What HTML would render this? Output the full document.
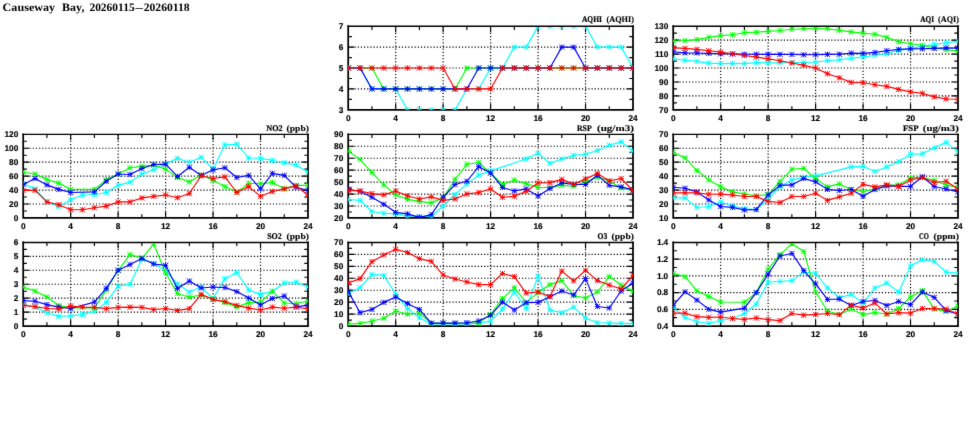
<!DOCTYPE html>
<html lang="en"><head><meta charset="utf-8"><title>Causeway Bay</title>
<style>html,body{margin:0;padding:0;background:#fff}svg{display:block}text{text-rendering:geometricPrecision}</style></head>
<body>
<svg width="975" height="447" viewBox="0 0 975 447">
<defs><g id="m"><path d="M-2.6 0H2.6M0 -2.6V2.6M-2.6 -2.6L2.6 2.6M-2.6 2.6L2.6 -2.6"/></g></defs>
<filter id="bl" x="0" y="0" width="975" height="447" filterUnits="userSpaceOnUse" color-interpolation-filters="sRGB"><feConvolveMatrix order="3" kernelMatrix="0.0064 0.0672 0.0064 0.0672 0.7056 0.0672 0.0064 0.0672 0.0064" divisor="1" edgeMode="none" preserveAlpha="false"/></filter>
<rect width="975" height="447" fill="#fff"/>
<g filter="url(#bl)">
<text y="10.8" font-family="'Liberation Serif', serif" font-weight="bold" font-size="11.3" fill="#000"><tspan x="2.6" textLength="52.6" lengthAdjust="spacingAndGlyphs">Causeway</tspan> <tspan x="62.0" textLength="22.4" lengthAdjust="spacingAndGlyphs">Bay,</tspan> <tspan x="89.4" textLength="45.3" lengthAdjust="spacingAndGlyphs">20260115</tspan><tspan x="135.4" textLength="7.4" lengthAdjust="spacingAndGlyphs">–</tspan><tspan x="143.7" textLength="46.0" lengthAdjust="spacingAndGlyphs">20260118</tspan></text>
<g>
<clipPath id="cp0"><rect x="348.20" y="26.95" width="284.80" height="82.90"/></clipPath>
<clipPath id="cl0"><rect x="348.20" y="27.00" width="284.80" height="82.05"/></clipPath>
<path d="M395.67 109.85V26.20M443.13 109.85V26.20M490.60 109.85V26.20M538.07 109.85V26.20M585.53 109.85V26.20M348.20 88.94H633.00M348.20 68.03H633.00M348.20 47.11H633.00" stroke="#000" stroke-width="1.15" stroke-dasharray="1.2 1.96" fill="none"/>
<path d="M371.93 109.85v-3.70M371.93 26.20v3.70M395.67 109.85v-6.00M395.67 26.20v6.00M419.40 109.85v-3.70M419.40 26.20v3.70M443.13 109.85v-6.00M443.13 26.20v6.00M466.87 109.85v-3.70M466.87 26.20v3.70M490.60 109.85v-6.00M490.60 26.20v6.00M514.33 109.85v-3.70M514.33 26.20v3.70M538.07 109.85v-6.00M538.07 26.20v6.00M561.80 109.85v-3.70M561.80 26.20v3.70M585.53 109.85v-6.00M585.53 26.20v6.00M609.27 109.85v-3.70M609.27 26.20v3.70M348.20 99.39h3.70M633.00 99.39h-3.70M348.20 88.94h6.00M633.00 88.94h-6.00M348.20 78.48h3.70M633.00 78.48h-3.70M348.20 68.03h6.00M633.00 68.03h-6.00M348.20 57.57h3.70M633.00 57.57h-3.70M348.20 47.11h6.00M633.00 47.11h-6.00M348.20 36.66h3.70M633.00 36.66h-3.70" stroke="#000" stroke-width="1.15" fill="none"/>
<path d="M348.20 26.20V109.85H633.00V26.20" fill="none" stroke="#000" stroke-width="1.75" stroke-linecap="square"/>
<path d="M348.20 26.30H633.00" fill="none" stroke="#000" stroke-width="1.4" stroke-linecap="square"/>
<g font-family="'Liberation Sans', sans-serif" font-weight="bold" font-size="8.3" fill="#000" stroke="#000" stroke-width="0.16">
<text x="348.20" y="120.95" text-anchor="middle">0</text>
<text x="395.67" y="120.95" text-anchor="middle">4</text>
<text x="443.13" y="120.95" text-anchor="middle">8</text>
<text x="490.60" y="120.95" text-anchor="middle">12</text>
<text x="538.07" y="120.95" text-anchor="middle">16</text>
<text x="585.53" y="120.95" text-anchor="middle">20</text>
<text x="633.00" y="120.95" text-anchor="middle">24</text>
<text x="343.30" y="112.70" text-anchor="end">3</text>
<text x="343.30" y="91.79" text-anchor="end">4</text>
<text x="343.30" y="70.88" text-anchor="end">5</text>
<text x="343.30" y="49.96" text-anchor="end">6</text>
<text x="343.30" y="29.05" text-anchor="end">7</text>
</g>
<text y="22.40" font-family="'Liberation Serif', serif" font-weight="bold" font-size="8.6" fill="#000" stroke="#000"><tspan x="581.90" textLength="20.0" lengthAdjust="spacingAndGlyphs" stroke-width="0.22">AQHI</tspan> <tspan x="606.50" textLength="27.4" lengthAdjust="spacingAndGlyphs" stroke-width="0.12">(AQHI)</tspan></text>
<g fill="none">
<g stroke="#00ffff">
<polyline clip-path="url(#cl0)" stroke-width="1.15" stroke-linejoin="round" points="348.20,68.03 360.07,68.03 371.93,88.94 383.80,88.94 395.67,88.94 407.53,109.85 419.40,109.85 431.27,109.85 443.13,109.85 455.00,109.85 466.87,88.94 478.73,88.94 490.60,68.03 502.47,68.03 514.33,47.11 526.20,47.11 538.07,26.20 549.93,26.20 561.80,26.20 573.67,26.20 585.53,26.20 597.40,47.11 609.27,47.11 621.13,47.11 633.00,68.03"/>
<g clip-path="url(#cp0)" stroke-width="0.95"><use href="#m" x="348.20" y="68.03"/><use href="#m" x="360.07" y="68.03"/><use href="#m" x="371.93" y="88.94"/><use href="#m" x="383.80" y="88.94"/><use href="#m" x="395.67" y="88.94"/><use href="#m" x="407.53" y="109.85"/><use href="#m" x="419.40" y="109.85"/><use href="#m" x="431.27" y="109.85"/><use href="#m" x="443.13" y="109.85"/><use href="#m" x="455.00" y="109.85"/><use href="#m" x="466.87" y="88.94"/><use href="#m" x="478.73" y="88.94"/><use href="#m" x="490.60" y="68.03"/><use href="#m" x="502.47" y="68.03"/><use href="#m" x="514.33" y="47.11"/><use href="#m" x="526.20" y="47.11"/><use href="#m" x="538.07" y="26.20"/><use href="#m" x="549.93" y="26.20"/><use href="#m" x="561.80" y="26.20"/><use href="#m" x="573.67" y="26.20"/><use href="#m" x="585.53" y="26.20"/><use href="#m" x="597.40" y="47.11"/><use href="#m" x="609.27" y="47.11"/><use href="#m" x="621.13" y="47.11"/><use href="#m" x="633.00" y="68.03"/></g>
</g>
<g stroke="#00ff00">
<polyline clip-path="url(#cl0)" stroke-width="1.15" stroke-linejoin="round" points="348.20,68.03 360.07,68.03 371.93,68.03 383.80,88.94 395.67,88.94 407.53,88.94 419.40,88.94 431.27,88.94 443.13,88.94 455.00,88.94 466.87,68.03 478.73,68.03 490.60,68.03 502.47,68.03 514.33,68.03 526.20,68.03 538.07,68.03 549.93,68.03 561.80,68.03 573.67,68.03 585.53,68.03 597.40,68.03 609.27,68.03 621.13,68.03 633.00,68.03"/>
<g clip-path="url(#cp0)" stroke-width="0.95"><use href="#m" x="348.20" y="68.03"/><use href="#m" x="360.07" y="68.03"/><use href="#m" x="371.93" y="68.03"/><use href="#m" x="383.80" y="88.94"/><use href="#m" x="395.67" y="88.94"/><use href="#m" x="407.53" y="88.94"/><use href="#m" x="419.40" y="88.94"/><use href="#m" x="431.27" y="88.94"/><use href="#m" x="443.13" y="88.94"/><use href="#m" x="455.00" y="88.94"/><use href="#m" x="466.87" y="68.03"/><use href="#m" x="478.73" y="68.03"/><use href="#m" x="490.60" y="68.03"/><use href="#m" x="502.47" y="68.03"/><use href="#m" x="514.33" y="68.03"/><use href="#m" x="526.20" y="68.03"/><use href="#m" x="538.07" y="68.03"/><use href="#m" x="549.93" y="68.03"/><use href="#m" x="561.80" y="68.03"/><use href="#m" x="573.67" y="68.03"/><use href="#m" x="585.53" y="68.03"/><use href="#m" x="597.40" y="68.03"/><use href="#m" x="609.27" y="68.03"/><use href="#m" x="621.13" y="68.03"/><use href="#m" x="633.00" y="68.03"/></g>
</g>
<g stroke="#0000ff">
<polyline clip-path="url(#cl0)" stroke-width="1.15" stroke-linejoin="round" points="348.20,68.03 360.07,68.03 371.93,88.94 383.80,88.94 395.67,88.94 407.53,88.94 419.40,88.94 431.27,88.94 443.13,88.94 455.00,88.94 466.87,88.94 478.73,68.03 490.60,68.03 502.47,68.03 514.33,68.03 526.20,68.03 538.07,68.03 549.93,68.03 561.80,47.11 573.67,47.11 585.53,68.03 597.40,68.03 609.27,68.03 621.13,68.03 633.00,68.03"/>
<g clip-path="url(#cp0)" stroke-width="0.95"><use href="#m" x="348.20" y="68.03"/><use href="#m" x="360.07" y="68.03"/><use href="#m" x="371.93" y="88.94"/><use href="#m" x="383.80" y="88.94"/><use href="#m" x="395.67" y="88.94"/><use href="#m" x="407.53" y="88.94"/><use href="#m" x="419.40" y="88.94"/><use href="#m" x="431.27" y="88.94"/><use href="#m" x="443.13" y="88.94"/><use href="#m" x="455.00" y="88.94"/><use href="#m" x="466.87" y="88.94"/><use href="#m" x="478.73" y="68.03"/><use href="#m" x="490.60" y="68.03"/><use href="#m" x="502.47" y="68.03"/><use href="#m" x="514.33" y="68.03"/><use href="#m" x="526.20" y="68.03"/><use href="#m" x="538.07" y="68.03"/><use href="#m" x="549.93" y="68.03"/><use href="#m" x="561.80" y="47.11"/><use href="#m" x="573.67" y="47.11"/><use href="#m" x="585.53" y="68.03"/><use href="#m" x="597.40" y="68.03"/><use href="#m" x="609.27" y="68.03"/><use href="#m" x="621.13" y="68.03"/><use href="#m" x="633.00" y="68.03"/></g>
</g>
<g stroke="#ff0000">
<polyline clip-path="url(#cl0)" stroke-width="1.15" stroke-linejoin="round" points="348.20,68.03 360.07,68.03 371.93,68.03 383.80,68.03 395.67,68.03 407.53,68.03 419.40,68.03 431.27,68.03 443.13,68.03 455.00,88.94 466.87,88.94 478.73,88.94 490.60,88.94 502.47,68.03 514.33,68.03 526.20,68.03 538.07,68.03 549.93,68.03 561.80,68.03 573.67,68.03 585.53,68.03 597.40,68.03 609.27,68.03 621.13,68.03 633.00,68.03"/>
<g clip-path="url(#cp0)" stroke-width="0.95"><use href="#m" x="348.20" y="68.03"/><use href="#m" x="360.07" y="68.03"/><use href="#m" x="371.93" y="68.03"/><use href="#m" x="383.80" y="68.03"/><use href="#m" x="395.67" y="68.03"/><use href="#m" x="407.53" y="68.03"/><use href="#m" x="419.40" y="68.03"/><use href="#m" x="431.27" y="68.03"/><use href="#m" x="443.13" y="68.03"/><use href="#m" x="455.00" y="88.94"/><use href="#m" x="466.87" y="88.94"/><use href="#m" x="478.73" y="88.94"/><use href="#m" x="490.60" y="88.94"/><use href="#m" x="502.47" y="68.03"/><use href="#m" x="514.33" y="68.03"/><use href="#m" x="526.20" y="68.03"/><use href="#m" x="538.07" y="68.03"/><use href="#m" x="549.93" y="68.03"/><use href="#m" x="561.80" y="68.03"/><use href="#m" x="573.67" y="68.03"/><use href="#m" x="585.53" y="68.03"/><use href="#m" x="597.40" y="68.03"/><use href="#m" x="609.27" y="68.03"/><use href="#m" x="621.13" y="68.03"/><use href="#m" x="633.00" y="68.03"/></g>
</g>
</g>
</g>
<g>
<clipPath id="cp1"><rect x="673.20" y="26.95" width="284.80" height="82.90"/></clipPath>
<clipPath id="cl1"><rect x="673.20" y="27.00" width="284.80" height="82.05"/></clipPath>
<path d="M720.67 109.85V26.20M768.13 109.85V26.20M815.60 109.85V26.20M863.07 109.85V26.20M910.53 109.85V26.20M673.20 95.91H958.00M673.20 81.97H958.00M673.20 68.03H958.00M673.20 54.08H958.00M673.20 40.14H958.00" stroke="#000" stroke-width="1.15" stroke-dasharray="1.2 1.96" fill="none"/>
<path d="M696.93 109.85v-3.70M696.93 26.20v3.70M720.67 109.85v-6.00M720.67 26.20v6.00M744.40 109.85v-3.70M744.40 26.20v3.70M768.13 109.85v-6.00M768.13 26.20v6.00M791.87 109.85v-3.70M791.87 26.20v3.70M815.60 109.85v-6.00M815.60 26.20v6.00M839.33 109.85v-3.70M839.33 26.20v3.70M863.07 109.85v-6.00M863.07 26.20v6.00M886.80 109.85v-3.70M886.80 26.20v3.70M910.53 109.85v-6.00M910.53 26.20v6.00M934.27 109.85v-3.70M934.27 26.20v3.70M673.20 102.88h3.70M958.00 102.88h-3.70M673.20 95.91h6.00M958.00 95.91h-6.00M673.20 88.94h3.70M958.00 88.94h-3.70M673.20 81.97h6.00M958.00 81.97h-6.00M673.20 75.00h3.70M958.00 75.00h-3.70M673.20 68.03h6.00M958.00 68.03h-6.00M673.20 61.05h3.70M958.00 61.05h-3.70M673.20 54.08h6.00M958.00 54.08h-6.00M673.20 47.11h3.70M958.00 47.11h-3.70M673.20 40.14h6.00M958.00 40.14h-6.00M673.20 33.17h3.70M958.00 33.17h-3.70" stroke="#000" stroke-width="1.15" fill="none"/>
<path d="M673.20 26.20V109.85H958.00V26.20" fill="none" stroke="#000" stroke-width="1.75" stroke-linecap="square"/>
<path d="M673.20 26.30H958.00" fill="none" stroke="#000" stroke-width="1.4" stroke-linecap="square"/>
<g font-family="'Liberation Sans', sans-serif" font-weight="bold" font-size="8.3" fill="#000" stroke="#000" stroke-width="0.16">
<text x="673.20" y="120.95" text-anchor="middle">0</text>
<text x="720.67" y="120.95" text-anchor="middle">4</text>
<text x="768.13" y="120.95" text-anchor="middle">8</text>
<text x="815.60" y="120.95" text-anchor="middle">12</text>
<text x="863.07" y="120.95" text-anchor="middle">16</text>
<text x="910.53" y="120.95" text-anchor="middle">20</text>
<text x="958.00" y="120.95" text-anchor="middle">24</text>
<text x="668.30" y="112.70" text-anchor="end">70</text>
<text x="668.30" y="98.76" text-anchor="end">80</text>
<text x="668.30" y="84.82" text-anchor="end">90</text>
<text x="668.30" y="70.88" text-anchor="end">100</text>
<text x="668.30" y="56.93" text-anchor="end">110</text>
<text x="668.30" y="42.99" text-anchor="end">120</text>
<text x="668.30" y="29.05" text-anchor="end">130</text>
</g>
<text y="22.40" font-family="'Liberation Serif', serif" font-weight="bold" font-size="8.6" fill="#000" stroke="#000"><tspan x="920.30" textLength="13.9" lengthAdjust="spacingAndGlyphs" stroke-width="0.22">AQI</tspan> <tspan x="938.10" textLength="20.8" lengthAdjust="spacingAndGlyphs" stroke-width="0.12">(AQI)</tspan></text>
<g fill="none">
<g stroke="#00ffff">
<polyline clip-path="url(#cl1)" stroke-width="1.15" stroke-linejoin="round" points="673.20,58.82 685.07,60.22 696.93,61.33 708.80,63.15 720.67,63.56 732.53,63.42 744.40,63.56 756.27,62.59 768.13,62.73 780.00,62.73 791.87,62.59 803.73,62.45 815.60,62.03 827.47,60.78 839.33,59.80 851.20,58.41 863.07,56.87 874.93,55.48 886.80,53.80 898.67,50.32 910.53,48.37 922.40,46.42 934.27,44.32 946.13,42.79 958.00,41.40"/>
<g clip-path="url(#cp1)" stroke-width="0.95"><use href="#m" x="673.20" y="58.82"/><use href="#m" x="685.07" y="60.22"/><use href="#m" x="696.93" y="61.33"/><use href="#m" x="708.80" y="63.15"/><use href="#m" x="720.67" y="63.56"/><use href="#m" x="732.53" y="63.42"/><use href="#m" x="744.40" y="63.56"/><use href="#m" x="756.27" y="62.59"/><use href="#m" x="768.13" y="62.73"/><use href="#m" x="780.00" y="62.73"/><use href="#m" x="791.87" y="62.59"/><use href="#m" x="803.73" y="62.45"/><use href="#m" x="815.60" y="62.03"/><use href="#m" x="827.47" y="60.78"/><use href="#m" x="839.33" y="59.80"/><use href="#m" x="851.20" y="58.41"/><use href="#m" x="863.07" y="56.87"/><use href="#m" x="874.93" y="55.48"/><use href="#m" x="886.80" y="53.80"/><use href="#m" x="898.67" y="50.32"/><use href="#m" x="910.53" y="48.37"/><use href="#m" x="922.40" y="46.42"/><use href="#m" x="934.27" y="44.32"/><use href="#m" x="946.13" y="42.79"/><use href="#m" x="958.00" y="41.40"/></g>
</g>
<g stroke="#00ff00">
<polyline clip-path="url(#cl1)" stroke-width="1.15" stroke-linejoin="round" points="673.20,41.12 685.07,40.70 696.93,39.58 708.80,37.35 720.67,35.68 732.53,34.70 744.40,32.75 756.27,32.19 768.13,31.36 780.00,30.52 791.87,29.27 803.73,28.71 815.60,28.29 827.47,28.71 839.33,30.38 851.20,31.92 863.07,33.17 874.93,34.29 886.80,37.35 898.67,41.68 910.53,43.77 922.40,45.30 934.27,47.81 946.13,49.76 958.00,51.16"/>
<g clip-path="url(#cp1)" stroke-width="0.95"><use href="#m" x="673.20" y="41.12"/><use href="#m" x="685.07" y="40.70"/><use href="#m" x="696.93" y="39.58"/><use href="#m" x="708.80" y="37.35"/><use href="#m" x="720.67" y="35.68"/><use href="#m" x="732.53" y="34.70"/><use href="#m" x="744.40" y="32.75"/><use href="#m" x="756.27" y="32.19"/><use href="#m" x="768.13" y="31.36"/><use href="#m" x="780.00" y="30.52"/><use href="#m" x="791.87" y="29.27"/><use href="#m" x="803.73" y="28.71"/><use href="#m" x="815.60" y="28.29"/><use href="#m" x="827.47" y="28.71"/><use href="#m" x="839.33" y="30.38"/><use href="#m" x="851.20" y="31.92"/><use href="#m" x="863.07" y="33.17"/><use href="#m" x="874.93" y="34.29"/><use href="#m" x="886.80" y="37.35"/><use href="#m" x="898.67" y="41.68"/><use href="#m" x="910.53" y="43.77"/><use href="#m" x="922.40" y="45.30"/><use href="#m" x="934.27" y="47.81"/><use href="#m" x="946.13" y="49.76"/><use href="#m" x="958.00" y="51.16"/></g>
</g>
<g stroke="#0000ff">
<polyline clip-path="url(#cl1)" stroke-width="1.15" stroke-linejoin="round" points="673.20,51.71 685.07,52.83 696.93,52.97 708.80,53.39 720.67,53.80 732.53,53.94 744.40,54.22 756.27,54.22 768.13,54.36 780.00,54.36 791.87,54.50 803.73,54.78 815.60,54.78 827.47,54.36 839.33,54.22 851.20,53.11 863.07,53.39 874.93,52.41 886.80,50.74 898.67,49.34 910.53,48.92 922.40,48.79 934.27,48.37 946.13,47.81 958.00,48.09"/>
<g clip-path="url(#cp1)" stroke-width="0.95"><use href="#m" x="673.20" y="51.71"/><use href="#m" x="685.07" y="52.83"/><use href="#m" x="696.93" y="52.97"/><use href="#m" x="708.80" y="53.39"/><use href="#m" x="720.67" y="53.80"/><use href="#m" x="732.53" y="53.94"/><use href="#m" x="744.40" y="54.22"/><use href="#m" x="756.27" y="54.22"/><use href="#m" x="768.13" y="54.36"/><use href="#m" x="780.00" y="54.36"/><use href="#m" x="791.87" y="54.50"/><use href="#m" x="803.73" y="54.78"/><use href="#m" x="815.60" y="54.78"/><use href="#m" x="827.47" y="54.36"/><use href="#m" x="839.33" y="54.22"/><use href="#m" x="851.20" y="53.11"/><use href="#m" x="863.07" y="53.39"/><use href="#m" x="874.93" y="52.41"/><use href="#m" x="886.80" y="50.74"/><use href="#m" x="898.67" y="49.34"/><use href="#m" x="910.53" y="48.92"/><use href="#m" x="922.40" y="48.79"/><use href="#m" x="934.27" y="48.37"/><use href="#m" x="946.13" y="47.81"/><use href="#m" x="958.00" y="48.09"/></g>
</g>
<g stroke="#ff0000">
<polyline clip-path="url(#cl1)" stroke-width="1.15" stroke-linejoin="round" points="673.20,47.81 685.07,48.37 696.93,49.34 708.80,50.74 720.67,52.13 732.53,53.80 744.40,55.48 756.27,57.15 768.13,58.82 780.00,60.78 791.87,63.01 803.73,65.38 815.60,68.03 827.47,73.74 839.33,77.78 851.20,82.38 863.07,82.80 874.93,84.76 886.80,86.43 898.67,89.36 910.53,91.87 922.40,93.26 934.27,96.88 946.13,98.98 958.00,99.25"/>
<g clip-path="url(#cp1)" stroke-width="0.95"><use href="#m" x="673.20" y="47.81"/><use href="#m" x="685.07" y="48.37"/><use href="#m" x="696.93" y="49.34"/><use href="#m" x="708.80" y="50.74"/><use href="#m" x="720.67" y="52.13"/><use href="#m" x="732.53" y="53.80"/><use href="#m" x="744.40" y="55.48"/><use href="#m" x="756.27" y="57.15"/><use href="#m" x="768.13" y="58.82"/><use href="#m" x="780.00" y="60.78"/><use href="#m" x="791.87" y="63.01"/><use href="#m" x="803.73" y="65.38"/><use href="#m" x="815.60" y="68.03"/><use href="#m" x="827.47" y="73.74"/><use href="#m" x="839.33" y="77.78"/><use href="#m" x="851.20" y="82.38"/><use href="#m" x="863.07" y="82.80"/><use href="#m" x="874.93" y="84.76"/><use href="#m" x="886.80" y="86.43"/><use href="#m" x="898.67" y="89.36"/><use href="#m" x="910.53" y="91.87"/><use href="#m" x="922.40" y="93.26"/><use href="#m" x="934.27" y="96.88"/><use href="#m" x="946.13" y="98.98"/><use href="#m" x="958.00" y="99.25"/></g>
</g>
</g>
</g>
<g>
<clipPath id="cp2"><rect x="23.20" y="135.05" width="284.80" height="82.90"/></clipPath>
<clipPath id="cl2"><rect x="23.20" y="135.10" width="284.80" height="82.05"/></clipPath>
<path d="M70.67 217.95V134.30M118.13 217.95V134.30M165.60 217.95V134.30M213.07 217.95V134.30M260.53 217.95V134.30M23.20 204.01H308.00M23.20 190.07H308.00M23.20 176.12H308.00M23.20 162.18H308.00M23.20 148.24H308.00" stroke="#000" stroke-width="1.15" stroke-dasharray="1.2 1.96" fill="none"/>
<path d="M46.93 217.95v-3.70M46.93 134.30v3.70M70.67 217.95v-6.00M70.67 134.30v6.00M94.40 217.95v-3.70M94.40 134.30v3.70M118.13 217.95v-6.00M118.13 134.30v6.00M141.87 217.95v-3.70M141.87 134.30v3.70M165.60 217.95v-6.00M165.60 134.30v6.00M189.33 217.95v-3.70M189.33 134.30v3.70M213.07 217.95v-6.00M213.07 134.30v6.00M236.80 217.95v-3.70M236.80 134.30v3.70M260.53 217.95v-6.00M260.53 134.30v6.00M284.27 217.95v-3.70M284.27 134.30v3.70M23.20 210.98h3.70M308.00 210.98h-3.70M23.20 204.01h6.00M308.00 204.01h-6.00M23.20 197.04h3.70M308.00 197.04h-3.70M23.20 190.07h6.00M308.00 190.07h-6.00M23.20 183.10h3.70M308.00 183.10h-3.70M23.20 176.12h6.00M308.00 176.12h-6.00M23.20 169.15h3.70M308.00 169.15h-3.70M23.20 162.18h6.00M308.00 162.18h-6.00M23.20 155.21h3.70M308.00 155.21h-3.70M23.20 148.24h6.00M308.00 148.24h-6.00M23.20 141.27h3.70M308.00 141.27h-3.70" stroke="#000" stroke-width="1.15" fill="none"/>
<path d="M23.20 134.30V217.95H308.00V134.30" fill="none" stroke="#000" stroke-width="1.75" stroke-linecap="square"/>
<path d="M23.20 134.40H308.00" fill="none" stroke="#000" stroke-width="1.4" stroke-linecap="square"/>
<g font-family="'Liberation Sans', sans-serif" font-weight="bold" font-size="8.3" fill="#000" stroke="#000" stroke-width="0.16">
<text x="23.20" y="229.05" text-anchor="middle">0</text>
<text x="70.67" y="229.05" text-anchor="middle">4</text>
<text x="118.13" y="229.05" text-anchor="middle">8</text>
<text x="165.60" y="229.05" text-anchor="middle">12</text>
<text x="213.07" y="229.05" text-anchor="middle">16</text>
<text x="260.53" y="229.05" text-anchor="middle">20</text>
<text x="308.00" y="229.05" text-anchor="middle">24</text>
<text x="18.30" y="220.80" text-anchor="end">0</text>
<text x="18.30" y="206.86" text-anchor="end">20</text>
<text x="18.30" y="192.92" text-anchor="end">40</text>
<text x="18.30" y="178.97" text-anchor="end">60</text>
<text x="18.30" y="165.03" text-anchor="end">80</text>
<text x="18.30" y="151.09" text-anchor="end">100</text>
<text x="18.30" y="137.15" text-anchor="end">120</text>
</g>
<text y="130.50" font-family="'Liberation Serif', serif" font-weight="bold" font-size="8.6" fill="#000" stroke="#000"><tspan x="266.30" textLength="16.4" lengthAdjust="spacingAndGlyphs" stroke-width="0.22">NO2</tspan> <tspan x="286.60" textLength="22.3" lengthAdjust="spacingAndGlyphs" stroke-width="0.12">(ppb)</tspan></text>
<g fill="none">
<g stroke="#00ffff">
<polyline clip-path="url(#cl2)" stroke-width="1.15" stroke-linejoin="round" points="23.20,183.79 35.07,188.88 46.93,201.92 58.80,206.52 70.67,199.83 82.53,194.95 94.40,194.53 106.27,192.51 118.13,185.33 130.00,182.12 141.87,174.03 153.73,169.85 165.60,163.86 177.47,158.35 189.33,162.18 201.20,157.30 213.07,168.88 224.93,144.76 236.80,144.06 248.67,158.00 260.53,158.28 272.40,160.44 284.27,162.88 296.13,164.97 308.00,172.29"/>
<g clip-path="url(#cp2)" stroke-width="0.95"><use href="#m" x="23.20" y="183.79"/><use href="#m" x="35.07" y="188.88"/><use href="#m" x="46.93" y="201.92"/><use href="#m" x="58.80" y="206.52"/><use href="#m" x="70.67" y="199.83"/><use href="#m" x="82.53" y="194.95"/><use href="#m" x="94.40" y="194.53"/><use href="#m" x="106.27" y="192.51"/><use href="#m" x="118.13" y="185.33"/><use href="#m" x="130.00" y="182.12"/><use href="#m" x="141.87" y="174.03"/><use href="#m" x="153.73" y="169.85"/><use href="#m" x="165.60" y="163.86"/><use href="#m" x="177.47" y="158.35"/><use href="#m" x="189.33" y="162.18"/><use href="#m" x="201.20" y="157.30"/><use href="#m" x="213.07" y="168.88"/><use href="#m" x="224.93" y="144.76"/><use href="#m" x="236.80" y="144.06"/><use href="#m" x="248.67" y="158.00"/><use href="#m" x="260.53" y="158.28"/><use href="#m" x="272.40" y="160.44"/><use href="#m" x="284.27" y="162.88"/><use href="#m" x="296.13" y="164.97"/><use href="#m" x="308.00" y="172.29"/></g>
</g>
<g stroke="#00ff00">
<polyline clip-path="url(#cl2)" stroke-width="1.15" stroke-linejoin="round" points="23.20,172.29 35.07,174.03 46.93,179.61 58.80,183.10 70.67,189.37 94.40,189.37 106.27,179.61 118.13,174.03 130.00,167.76 141.87,166.37 153.73,164.97 165.60,169.15 177.47,177.52 189.33,181.91 201.20,174.73 213.07,180.31 224.93,186.58 236.80,192.16 248.67,183.30 260.53,183.79 272.40,182.40 284.27,188.67 296.13,185.33 308.00,185.33"/>
<g clip-path="url(#cp2)" stroke-width="0.95"><use href="#m" x="23.20" y="172.29"/><use href="#m" x="35.07" y="174.03"/><use href="#m" x="46.93" y="179.61"/><use href="#m" x="58.80" y="183.10"/><use href="#m" x="70.67" y="189.37"/><use href="#m" x="94.40" y="189.37"/><use href="#m" x="106.27" y="179.61"/><use href="#m" x="118.13" y="174.03"/><use href="#m" x="130.00" y="167.76"/><use href="#m" x="141.87" y="166.37"/><use href="#m" x="153.73" y="164.97"/><use href="#m" x="165.60" y="169.15"/><use href="#m" x="177.47" y="177.52"/><use href="#m" x="189.33" y="181.91"/><use href="#m" x="201.20" y="174.73"/><use href="#m" x="213.07" y="180.31"/><use href="#m" x="224.93" y="186.58"/><use href="#m" x="236.80" y="192.16"/><use href="#m" x="248.67" y="183.30"/><use href="#m" x="260.53" y="183.79"/><use href="#m" x="272.40" y="182.40"/><use href="#m" x="284.27" y="188.67"/><use href="#m" x="296.13" y="185.33"/><use href="#m" x="308.00" y="185.33"/></g>
</g>
<g stroke="#0000ff">
<polyline clip-path="url(#cl2)" stroke-width="1.15" stroke-linejoin="round" points="23.20,184.49 35.07,178.50 46.93,184.91 58.80,189.37 70.67,192.51 94.40,191.88 106.27,181.28 118.13,174.03 130.00,174.45 141.87,168.46 153.73,164.48 165.60,164.07 177.47,176.47 189.33,167.27 201.20,175.43 213.07,169.85 224.93,167.76 236.80,177.52 248.67,175.43 260.53,188.88 272.40,173.34 284.27,175.43 296.13,187.28 308.00,190.48"/>
<g clip-path="url(#cp2)" stroke-width="0.95"><use href="#m" x="23.20" y="184.49"/><use href="#m" x="35.07" y="178.50"/><use href="#m" x="46.93" y="184.91"/><use href="#m" x="58.80" y="189.37"/><use href="#m" x="70.67" y="192.51"/><use href="#m" x="94.40" y="191.88"/><use href="#m" x="106.27" y="181.28"/><use href="#m" x="118.13" y="174.03"/><use href="#m" x="130.00" y="174.45"/><use href="#m" x="141.87" y="168.46"/><use href="#m" x="153.73" y="164.48"/><use href="#m" x="165.60" y="164.07"/><use href="#m" x="177.47" y="176.47"/><use href="#m" x="189.33" y="167.27"/><use href="#m" x="201.20" y="175.43"/><use href="#m" x="213.07" y="169.85"/><use href="#m" x="224.93" y="167.76"/><use href="#m" x="236.80" y="177.52"/><use href="#m" x="248.67" y="175.43"/><use href="#m" x="260.53" y="188.88"/><use href="#m" x="272.40" y="173.34"/><use href="#m" x="284.27" y="175.43"/><use href="#m" x="296.13" y="187.28"/><use href="#m" x="308.00" y="190.48"/></g>
</g>
<g stroke="#ff0000">
<polyline clip-path="url(#cl2)" stroke-width="1.15" stroke-linejoin="round" points="23.20,190.48 35.07,190.35 46.93,201.92 58.80,204.71 70.67,209.72 82.53,209.72 94.40,207.70 106.27,206.10 118.13,201.92 130.00,201.92 141.87,197.94 153.73,196.34 165.60,194.95 177.47,197.73 189.33,193.55 201.20,175.71 213.07,178.50 224.93,176.82 236.80,192.51 248.67,186.58 260.53,196.34 272.40,191.46 284.27,188.88 296.13,185.88 308.00,195.29"/>
<g clip-path="url(#cp2)" stroke-width="0.95"><use href="#m" x="23.20" y="190.48"/><use href="#m" x="35.07" y="190.35"/><use href="#m" x="46.93" y="201.92"/><use href="#m" x="58.80" y="204.71"/><use href="#m" x="70.67" y="209.72"/><use href="#m" x="82.53" y="209.72"/><use href="#m" x="94.40" y="207.70"/><use href="#m" x="106.27" y="206.10"/><use href="#m" x="118.13" y="201.92"/><use href="#m" x="130.00" y="201.92"/><use href="#m" x="141.87" y="197.94"/><use href="#m" x="153.73" y="196.34"/><use href="#m" x="165.60" y="194.95"/><use href="#m" x="177.47" y="197.73"/><use href="#m" x="189.33" y="193.55"/><use href="#m" x="201.20" y="175.71"/><use href="#m" x="213.07" y="178.50"/><use href="#m" x="224.93" y="176.82"/><use href="#m" x="236.80" y="192.51"/><use href="#m" x="248.67" y="186.58"/><use href="#m" x="260.53" y="196.34"/><use href="#m" x="272.40" y="191.46"/><use href="#m" x="284.27" y="188.88"/><use href="#m" x="296.13" y="185.88"/><use href="#m" x="308.00" y="195.29"/></g>
</g>
</g>
</g>
<g>
<clipPath id="cp3"><rect x="348.20" y="135.05" width="284.80" height="82.90"/></clipPath>
<clipPath id="cl3"><rect x="348.20" y="135.10" width="284.80" height="82.05"/></clipPath>
<path d="M395.67 217.95V134.30M443.13 217.95V134.30M490.60 217.95V134.30M538.07 217.95V134.30M585.53 217.95V134.30M348.20 206.00H633.00M348.20 194.05H633.00M348.20 182.10H633.00M348.20 170.15H633.00M348.20 158.20H633.00M348.20 146.25H633.00" stroke="#000" stroke-width="1.15" stroke-dasharray="1.2 1.96" fill="none"/>
<path d="M371.93 217.95v-3.70M371.93 134.30v3.70M395.67 217.95v-6.00M395.67 134.30v6.00M419.40 217.95v-3.70M419.40 134.30v3.70M443.13 217.95v-6.00M443.13 134.30v6.00M466.87 217.95v-3.70M466.87 134.30v3.70M490.60 217.95v-6.00M490.60 134.30v6.00M514.33 217.95v-3.70M514.33 134.30v3.70M538.07 217.95v-6.00M538.07 134.30v6.00M561.80 217.95v-3.70M561.80 134.30v3.70M585.53 217.95v-6.00M585.53 134.30v6.00M609.27 217.95v-3.70M609.27 134.30v3.70M348.20 211.98h3.70M633.00 211.98h-3.70M348.20 206.00h6.00M633.00 206.00h-6.00M348.20 200.03h3.70M633.00 200.03h-3.70M348.20 194.05h6.00M633.00 194.05h-6.00M348.20 188.08h3.70M633.00 188.08h-3.70M348.20 182.10h6.00M633.00 182.10h-6.00M348.20 176.12h3.70M633.00 176.12h-3.70M348.20 170.15h6.00M633.00 170.15h-6.00M348.20 164.18h3.70M633.00 164.18h-3.70M348.20 158.20h6.00M633.00 158.20h-6.00M348.20 152.23h3.70M633.00 152.23h-3.70M348.20 146.25h6.00M633.00 146.25h-6.00M348.20 140.28h3.70M633.00 140.28h-3.70" stroke="#000" stroke-width="1.15" fill="none"/>
<path d="M348.20 134.30V217.95H633.00V134.30" fill="none" stroke="#000" stroke-width="1.75" stroke-linecap="square"/>
<path d="M348.20 134.40H633.00" fill="none" stroke="#000" stroke-width="1.4" stroke-linecap="square"/>
<g font-family="'Liberation Sans', sans-serif" font-weight="bold" font-size="8.3" fill="#000" stroke="#000" stroke-width="0.16">
<text x="348.20" y="229.05" text-anchor="middle">0</text>
<text x="395.67" y="229.05" text-anchor="middle">4</text>
<text x="443.13" y="229.05" text-anchor="middle">8</text>
<text x="490.60" y="229.05" text-anchor="middle">12</text>
<text x="538.07" y="229.05" text-anchor="middle">16</text>
<text x="585.53" y="229.05" text-anchor="middle">20</text>
<text x="633.00" y="229.05" text-anchor="middle">24</text>
<text x="343.30" y="220.80" text-anchor="end">20</text>
<text x="343.30" y="208.85" text-anchor="end">30</text>
<text x="343.30" y="196.90" text-anchor="end">40</text>
<text x="343.30" y="184.95" text-anchor="end">50</text>
<text x="343.30" y="173.00" text-anchor="end">60</text>
<text x="343.30" y="161.05" text-anchor="end">70</text>
<text x="343.30" y="149.10" text-anchor="end">80</text>
<text x="343.30" y="137.15" text-anchor="end">90</text>
</g>
<text y="130.50" font-family="'Liberation Serif', serif" font-weight="bold" font-size="8.6" fill="#000" stroke="#000"><tspan x="576.90" textLength="14.4" lengthAdjust="spacingAndGlyphs" stroke-width="0.22">RSP</tspan> <tspan x="597.00" textLength="36.9" lengthAdjust="spacingAndGlyphs" stroke-width="0.12">(ug/m3)</tspan></text>
<g fill="none">
<g stroke="#00ffff">
<polyline clip-path="url(#cl3)" stroke-width="1.15" stroke-linejoin="round" points="348.20,199.55 360.07,200.38 371.93,211.50 383.80,213.29 395.67,213.89 407.53,215.92 419.40,216.52 431.27,216.52 443.13,206.00 455.00,194.53 466.87,183.89 478.73,174.93 490.60,170.87 526.20,158.92 538.07,153.30 549.93,163.34 561.80,158.92 573.67,155.33 585.53,154.26 597.40,150.55 609.27,145.29 621.13,141.83 633.00,150.91"/>
<g clip-path="url(#cp3)" stroke-width="0.95"><use href="#m" x="348.20" y="199.55"/><use href="#m" x="360.07" y="200.38"/><use href="#m" x="371.93" y="211.50"/><use href="#m" x="383.80" y="213.29"/><use href="#m" x="395.67" y="213.89"/><use href="#m" x="407.53" y="215.92"/><use href="#m" x="419.40" y="216.52"/><use href="#m" x="431.27" y="216.52"/><use href="#m" x="443.13" y="206.00"/><use href="#m" x="455.00" y="194.53"/><use href="#m" x="466.87" y="183.89"/><use href="#m" x="478.73" y="174.93"/><use href="#m" x="490.60" y="170.87"/><use href="#m" x="526.20" y="158.92"/><use href="#m" x="538.07" y="153.30"/><use href="#m" x="549.93" y="163.34"/><use href="#m" x="561.80" y="158.92"/><use href="#m" x="573.67" y="155.33"/><use href="#m" x="585.53" y="154.26"/><use href="#m" x="597.40" y="150.55"/><use href="#m" x="609.27" y="145.29"/><use href="#m" x="621.13" y="141.83"/><use href="#m" x="633.00" y="150.91"/></g>
</g>
<g stroke="#00ff00">
<polyline clip-path="url(#cl3)" stroke-width="1.15" stroke-linejoin="round" points="348.20,150.91 360.07,159.40 371.93,172.54 383.80,184.97 395.67,194.89 407.53,199.31 419.40,201.34 431.27,202.89 443.13,197.87 455.00,179.35 466.87,164.29 478.73,162.50 490.60,173.26 502.47,184.49 514.33,179.95 526.20,183.89 538.07,187.36 549.93,187.48 561.80,185.33 573.67,186.28 585.53,181.86 597.40,177.32 609.27,180.91 621.13,187.96 633.00,190.94"/>
<g clip-path="url(#cp3)" stroke-width="0.95"><use href="#m" x="348.20" y="150.91"/><use href="#m" x="360.07" y="159.40"/><use href="#m" x="371.93" y="172.54"/><use href="#m" x="383.80" y="184.97"/><use href="#m" x="395.67" y="194.89"/><use href="#m" x="407.53" y="199.31"/><use href="#m" x="419.40" y="201.34"/><use href="#m" x="431.27" y="202.89"/><use href="#m" x="443.13" y="197.87"/><use href="#m" x="455.00" y="179.35"/><use href="#m" x="466.87" y="164.29"/><use href="#m" x="478.73" y="162.50"/><use href="#m" x="490.60" y="173.26"/><use href="#m" x="502.47" y="184.49"/><use href="#m" x="514.33" y="179.95"/><use href="#m" x="526.20" y="183.89"/><use href="#m" x="538.07" y="187.36"/><use href="#m" x="549.93" y="187.48"/><use href="#m" x="561.80" y="185.33"/><use href="#m" x="573.67" y="186.28"/><use href="#m" x="585.53" y="181.86"/><use href="#m" x="597.40" y="177.32"/><use href="#m" x="609.27" y="180.91"/><use href="#m" x="621.13" y="187.96"/><use href="#m" x="633.00" y="190.94"/></g>
</g>
<g stroke="#0000ff">
<polyline clip-path="url(#cl3)" stroke-width="1.15" stroke-linejoin="round" points="348.20,189.27 360.07,191.30 371.93,197.28 383.80,204.33 395.67,212.33 407.53,213.89 419.40,217.35 431.27,214.60 443.13,197.28 455.00,184.49 466.87,181.26 478.73,166.56 490.60,172.90 502.47,187.48 514.33,190.94 526.20,188.91 538.07,195.96 549.93,188.55 561.80,182.94 573.67,184.49 585.53,184.49 597.40,175.29 609.27,185.33 621.13,186.88 633.00,189.87"/>
<g clip-path="url(#cp3)" stroke-width="0.95"><use href="#m" x="348.20" y="189.27"/><use href="#m" x="360.07" y="191.30"/><use href="#m" x="371.93" y="197.28"/><use href="#m" x="383.80" y="204.33"/><use href="#m" x="395.67" y="212.33"/><use href="#m" x="407.53" y="213.89"/><use href="#m" x="419.40" y="217.35"/><use href="#m" x="431.27" y="214.60"/><use href="#m" x="443.13" y="197.28"/><use href="#m" x="455.00" y="184.49"/><use href="#m" x="466.87" y="181.26"/><use href="#m" x="478.73" y="166.56"/><use href="#m" x="490.60" y="172.90"/><use href="#m" x="502.47" y="187.48"/><use href="#m" x="514.33" y="190.94"/><use href="#m" x="526.20" y="188.91"/><use href="#m" x="538.07" y="195.96"/><use href="#m" x="549.93" y="188.55"/><use href="#m" x="561.80" y="182.94"/><use href="#m" x="573.67" y="184.49"/><use href="#m" x="585.53" y="184.49"/><use href="#m" x="597.40" y="175.29"/><use href="#m" x="609.27" y="185.33"/><use href="#m" x="621.13" y="186.88"/><use href="#m" x="633.00" y="189.87"/></g>
</g>
<g stroke="#ff0000">
<polyline clip-path="url(#cl3)" stroke-width="1.15" stroke-linejoin="round" points="348.20,190.35 360.07,190.94 371.93,193.57 383.80,194.89 395.67,190.94 407.53,195.96 419.40,198.95 431.27,196.92 443.13,200.38 455.00,198.95 466.87,193.93 478.73,192.50 490.60,188.91 502.47,197.28 514.33,196.32 526.20,191.30 538.07,182.94 549.93,182.58 561.80,179.35 573.67,184.37 585.53,178.87 597.40,173.50 609.27,180.91 621.13,178.52 633.00,190.58"/>
<g clip-path="url(#cp3)" stroke-width="0.95"><use href="#m" x="348.20" y="190.35"/><use href="#m" x="360.07" y="190.94"/><use href="#m" x="371.93" y="193.57"/><use href="#m" x="383.80" y="194.89"/><use href="#m" x="395.67" y="190.94"/><use href="#m" x="407.53" y="195.96"/><use href="#m" x="419.40" y="198.95"/><use href="#m" x="431.27" y="196.92"/><use href="#m" x="443.13" y="200.38"/><use href="#m" x="455.00" y="198.95"/><use href="#m" x="466.87" y="193.93"/><use href="#m" x="478.73" y="192.50"/><use href="#m" x="490.60" y="188.91"/><use href="#m" x="502.47" y="197.28"/><use href="#m" x="514.33" y="196.32"/><use href="#m" x="526.20" y="191.30"/><use href="#m" x="538.07" y="182.94"/><use href="#m" x="549.93" y="182.58"/><use href="#m" x="561.80" y="179.35"/><use href="#m" x="573.67" y="184.37"/><use href="#m" x="585.53" y="178.87"/><use href="#m" x="597.40" y="173.50"/><use href="#m" x="609.27" y="180.91"/><use href="#m" x="621.13" y="178.52"/><use href="#m" x="633.00" y="190.58"/></g>
</g>
</g>
</g>
<g>
<clipPath id="cp4"><rect x="673.20" y="135.05" width="284.80" height="82.90"/></clipPath>
<clipPath id="cl4"><rect x="673.20" y="135.10" width="284.80" height="82.05"/></clipPath>
<path d="M720.67 217.95V134.30M768.13 217.95V134.30M815.60 217.95V134.30M863.07 217.95V134.30M910.53 217.95V134.30M673.20 204.01H958.00M673.20 190.07H958.00M673.20 176.12H958.00M673.20 162.18H958.00M673.20 148.24H958.00" stroke="#000" stroke-width="1.15" stroke-dasharray="1.2 1.96" fill="none"/>
<path d="M696.93 217.95v-3.70M696.93 134.30v3.70M720.67 217.95v-6.00M720.67 134.30v6.00M744.40 217.95v-3.70M744.40 134.30v3.70M768.13 217.95v-6.00M768.13 134.30v6.00M791.87 217.95v-3.70M791.87 134.30v3.70M815.60 217.95v-6.00M815.60 134.30v6.00M839.33 217.95v-3.70M839.33 134.30v3.70M863.07 217.95v-6.00M863.07 134.30v6.00M886.80 217.95v-3.70M886.80 134.30v3.70M910.53 217.95v-6.00M910.53 134.30v6.00M934.27 217.95v-3.70M934.27 134.30v3.70M673.20 210.98h3.70M958.00 210.98h-3.70M673.20 204.01h6.00M958.00 204.01h-6.00M673.20 197.04h3.70M958.00 197.04h-3.70M673.20 190.07h6.00M958.00 190.07h-6.00M673.20 183.10h3.70M958.00 183.10h-3.70M673.20 176.12h6.00M958.00 176.12h-6.00M673.20 169.15h3.70M958.00 169.15h-3.70M673.20 162.18h6.00M958.00 162.18h-6.00M673.20 155.21h3.70M958.00 155.21h-3.70M673.20 148.24h6.00M958.00 148.24h-6.00M673.20 141.27h3.70M958.00 141.27h-3.70" stroke="#000" stroke-width="1.15" fill="none"/>
<path d="M673.20 134.30V217.95H958.00V134.30" fill="none" stroke="#000" stroke-width="1.75" stroke-linecap="square"/>
<path d="M673.20 134.40H958.00" fill="none" stroke="#000" stroke-width="1.4" stroke-linecap="square"/>
<g font-family="'Liberation Sans', sans-serif" font-weight="bold" font-size="8.3" fill="#000" stroke="#000" stroke-width="0.16">
<text x="673.20" y="229.05" text-anchor="middle">0</text>
<text x="720.67" y="229.05" text-anchor="middle">4</text>
<text x="768.13" y="229.05" text-anchor="middle">8</text>
<text x="815.60" y="229.05" text-anchor="middle">12</text>
<text x="863.07" y="229.05" text-anchor="middle">16</text>
<text x="910.53" y="229.05" text-anchor="middle">20</text>
<text x="958.00" y="229.05" text-anchor="middle">24</text>
<text x="668.30" y="220.80" text-anchor="end">10</text>
<text x="668.30" y="206.86" text-anchor="end">20</text>
<text x="668.30" y="192.92" text-anchor="end">30</text>
<text x="668.30" y="178.97" text-anchor="end">40</text>
<text x="668.30" y="165.03" text-anchor="end">50</text>
<text x="668.30" y="151.09" text-anchor="end">60</text>
<text x="668.30" y="137.15" text-anchor="end">70</text>
</g>
<text y="130.50" font-family="'Liberation Serif', serif" font-weight="bold" font-size="8.6" fill="#000" stroke="#000"><tspan x="903.00" textLength="15.1" lengthAdjust="spacingAndGlyphs" stroke-width="0.22">FSP</tspan> <tspan x="922.80" textLength="36.1" lengthAdjust="spacingAndGlyphs" stroke-width="0.12">(ug/m3)</tspan></text>
<g fill="none">
<g stroke="#00ffff">
<polyline clip-path="url(#cl4)" stroke-width="1.15" stroke-linejoin="round" points="673.20,197.87 685.07,197.87 696.93,207.49 708.80,206.52 720.67,201.92 732.53,205.96 744.40,208.89 756.27,209.59 768.13,198.99 780.00,186.44 791.87,179.89 803.73,177.24 815.60,175.85 851.20,166.92 863.07,166.23 874.93,171.52 886.80,166.92 898.67,161.49 910.53,154.24 922.40,153.82 934.27,147.82 946.13,142.39 958.00,151.87"/>
<g clip-path="url(#cp4)" stroke-width="0.95"><use href="#m" x="673.20" y="197.87"/><use href="#m" x="685.07" y="197.87"/><use href="#m" x="696.93" y="207.49"/><use href="#m" x="708.80" y="206.52"/><use href="#m" x="720.67" y="201.92"/><use href="#m" x="732.53" y="205.96"/><use href="#m" x="744.40" y="208.89"/><use href="#m" x="756.27" y="209.59"/><use href="#m" x="768.13" y="198.99"/><use href="#m" x="780.00" y="186.44"/><use href="#m" x="791.87" y="179.89"/><use href="#m" x="803.73" y="177.24"/><use href="#m" x="815.60" y="175.85"/><use href="#m" x="851.20" y="166.92"/><use href="#m" x="863.07" y="166.23"/><use href="#m" x="874.93" y="171.52"/><use href="#m" x="886.80" y="166.92"/><use href="#m" x="898.67" y="161.49"/><use href="#m" x="910.53" y="154.24"/><use href="#m" x="922.40" y="153.82"/><use href="#m" x="934.27" y="147.82"/><use href="#m" x="946.13" y="142.39"/><use href="#m" x="958.00" y="151.87"/></g>
</g>
<g stroke="#00ff00">
<polyline clip-path="url(#cl4)" stroke-width="1.15" stroke-linejoin="round" points="673.20,152.42 685.07,157.86 696.93,170.55 708.80,179.89 720.67,186.86 732.53,191.88 744.40,193.97 756.27,195.92 768.13,194.53 780.00,181.28 791.87,169.29 803.73,168.32 815.60,178.50 827.47,186.86 839.33,183.93 851.20,189.51 863.07,191.46 874.93,188.95 886.80,185.33 898.67,184.91 910.53,177.94 922.40,177.24 934.27,180.45 946.13,184.91 958.00,187.28"/>
<g clip-path="url(#cp4)" stroke-width="0.95"><use href="#m" x="673.20" y="152.42"/><use href="#m" x="685.07" y="157.86"/><use href="#m" x="696.93" y="170.55"/><use href="#m" x="708.80" y="179.89"/><use href="#m" x="720.67" y="186.86"/><use href="#m" x="732.53" y="191.88"/><use href="#m" x="744.40" y="193.97"/><use href="#m" x="756.27" y="195.92"/><use href="#m" x="768.13" y="194.53"/><use href="#m" x="780.00" y="181.28"/><use href="#m" x="791.87" y="169.29"/><use href="#m" x="803.73" y="168.32"/><use href="#m" x="815.60" y="178.50"/><use href="#m" x="827.47" y="186.86"/><use href="#m" x="839.33" y="183.93"/><use href="#m" x="851.20" y="189.51"/><use href="#m" x="863.07" y="191.46"/><use href="#m" x="874.93" y="188.95"/><use href="#m" x="886.80" y="185.33"/><use href="#m" x="898.67" y="184.91"/><use href="#m" x="910.53" y="177.94"/><use href="#m" x="922.40" y="177.24"/><use href="#m" x="934.27" y="180.45"/><use href="#m" x="946.13" y="184.91"/><use href="#m" x="958.00" y="187.28"/></g>
</g>
<g stroke="#0000ff">
<polyline clip-path="url(#cl4)" stroke-width="1.15" stroke-linejoin="round" points="673.20,187.28 685.07,188.25 696.93,191.88 708.80,199.97 720.67,206.52 732.53,207.35 744.40,210.00 756.27,209.59 768.13,194.95 780.00,185.33 791.87,184.91 803.73,178.50 815.60,181.84 827.47,189.37 839.33,190.48 851.20,189.51 863.07,196.34 874.93,189.51 886.80,185.88 898.67,186.30 910.53,186.30 922.40,176.82 934.27,186.44 946.13,188.95 958.00,191.88"/>
<g clip-path="url(#cp4)" stroke-width="0.95"><use href="#m" x="673.20" y="187.28"/><use href="#m" x="685.07" y="188.25"/><use href="#m" x="696.93" y="191.88"/><use href="#m" x="708.80" y="199.97"/><use href="#m" x="720.67" y="206.52"/><use href="#m" x="732.53" y="207.35"/><use href="#m" x="744.40" y="210.00"/><use href="#m" x="756.27" y="209.59"/><use href="#m" x="768.13" y="194.95"/><use href="#m" x="780.00" y="185.33"/><use href="#m" x="791.87" y="184.91"/><use href="#m" x="803.73" y="178.50"/><use href="#m" x="815.60" y="181.84"/><use href="#m" x="827.47" y="189.37"/><use href="#m" x="839.33" y="190.48"/><use href="#m" x="851.20" y="189.51"/><use href="#m" x="863.07" y="196.34"/><use href="#m" x="874.93" y="189.51"/><use href="#m" x="886.80" y="185.88"/><use href="#m" x="898.67" y="186.30"/><use href="#m" x="910.53" y="186.30"/><use href="#m" x="922.40" y="176.82"/><use href="#m" x="934.27" y="186.44"/><use href="#m" x="946.13" y="188.95"/><use href="#m" x="958.00" y="191.88"/></g>
</g>
<g stroke="#ff0000">
<polyline clip-path="url(#cl4)" stroke-width="1.15" stroke-linejoin="round" points="673.20,192.86 685.07,192.86 696.93,192.86 708.80,194.25 720.67,194.11 732.53,194.95 744.40,196.48 756.27,196.48 768.13,201.36 780.00,202.47 791.87,196.48 803.73,196.48 815.60,193.27 827.47,200.38 839.33,196.90 851.20,193.27 863.07,184.35 874.93,186.86 886.80,184.91 898.67,186.44 910.53,179.89 922.40,177.52 934.27,182.54 946.13,181.28 958.00,188.95"/>
<g clip-path="url(#cp4)" stroke-width="0.95"><use href="#m" x="673.20" y="192.86"/><use href="#m" x="685.07" y="192.86"/><use href="#m" x="696.93" y="192.86"/><use href="#m" x="708.80" y="194.25"/><use href="#m" x="720.67" y="194.11"/><use href="#m" x="732.53" y="194.95"/><use href="#m" x="744.40" y="196.48"/><use href="#m" x="756.27" y="196.48"/><use href="#m" x="768.13" y="201.36"/><use href="#m" x="780.00" y="202.47"/><use href="#m" x="791.87" y="196.48"/><use href="#m" x="803.73" y="196.48"/><use href="#m" x="815.60" y="193.27"/><use href="#m" x="827.47" y="200.38"/><use href="#m" x="839.33" y="196.90"/><use href="#m" x="851.20" y="193.27"/><use href="#m" x="863.07" y="184.35"/><use href="#m" x="874.93" y="186.86"/><use href="#m" x="886.80" y="184.91"/><use href="#m" x="898.67" y="186.44"/><use href="#m" x="910.53" y="179.89"/><use href="#m" x="922.40" y="177.52"/><use href="#m" x="934.27" y="182.54"/><use href="#m" x="946.13" y="181.28"/><use href="#m" x="958.00" y="188.95"/></g>
</g>
</g>
</g>
<g>
<clipPath id="cp5"><rect x="23.20" y="243.15" width="284.80" height="82.90"/></clipPath>
<clipPath id="cl5"><rect x="23.20" y="243.20" width="284.80" height="82.05"/></clipPath>
<path d="M70.67 326.05V242.40M118.13 326.05V242.40M165.60 326.05V242.40M213.07 326.05V242.40M260.53 326.05V242.40M23.20 312.11H308.00M23.20 298.17H308.00M23.20 284.23H308.00M23.20 270.28H308.00M23.20 256.34H308.00" stroke="#000" stroke-width="1.15" stroke-dasharray="1.2 1.96" fill="none"/>
<path d="M46.93 326.05v-3.70M46.93 242.40v3.70M70.67 326.05v-6.00M70.67 242.40v6.00M94.40 326.05v-3.70M94.40 242.40v3.70M118.13 326.05v-6.00M118.13 242.40v6.00M141.87 326.05v-3.70M141.87 242.40v3.70M165.60 326.05v-6.00M165.60 242.40v6.00M189.33 326.05v-3.70M189.33 242.40v3.70M213.07 326.05v-6.00M213.07 242.40v6.00M236.80 326.05v-3.70M236.80 242.40v3.70M260.53 326.05v-6.00M260.53 242.40v6.00M284.27 326.05v-3.70M284.27 242.40v3.70M23.20 319.08h3.70M308.00 319.08h-3.70M23.20 312.11h6.00M308.00 312.11h-6.00M23.20 305.14h3.70M308.00 305.14h-3.70M23.20 298.17h6.00M308.00 298.17h-6.00M23.20 291.20h3.70M308.00 291.20h-3.70M23.20 284.23h6.00M308.00 284.23h-6.00M23.20 277.25h3.70M308.00 277.25h-3.70M23.20 270.28h6.00M308.00 270.28h-6.00M23.20 263.31h3.70M308.00 263.31h-3.70M23.20 256.34h6.00M308.00 256.34h-6.00M23.20 249.37h3.70M308.00 249.37h-3.70" stroke="#000" stroke-width="1.15" fill="none"/>
<path d="M23.20 242.40V326.05H308.00V242.40" fill="none" stroke="#000" stroke-width="1.75" stroke-linecap="square"/>
<path d="M23.20 242.50H308.00" fill="none" stroke="#000" stroke-width="1.4" stroke-linecap="square"/>
<g font-family="'Liberation Sans', sans-serif" font-weight="bold" font-size="8.3" fill="#000" stroke="#000" stroke-width="0.16">
<text x="23.20" y="337.15" text-anchor="middle">0</text>
<text x="70.67" y="337.15" text-anchor="middle">4</text>
<text x="118.13" y="337.15" text-anchor="middle">8</text>
<text x="165.60" y="337.15" text-anchor="middle">12</text>
<text x="213.07" y="337.15" text-anchor="middle">16</text>
<text x="260.53" y="337.15" text-anchor="middle">20</text>
<text x="308.00" y="337.15" text-anchor="middle">24</text>
<text x="18.30" y="328.90" text-anchor="end">0</text>
<text x="18.30" y="314.96" text-anchor="end">1</text>
<text x="18.30" y="301.02" text-anchor="end">2</text>
<text x="18.30" y="287.08" text-anchor="end">3</text>
<text x="18.30" y="273.13" text-anchor="end">4</text>
<text x="18.30" y="259.19" text-anchor="end">5</text>
<text x="18.30" y="245.25" text-anchor="end">6</text>
</g>
<text y="238.60" font-family="'Liberation Serif', serif" font-weight="bold" font-size="8.6" fill="#000" stroke="#000"><tspan x="267.20" textLength="14.6" lengthAdjust="spacingAndGlyphs" stroke-width="0.22">SO2</tspan> <tspan x="286.60" textLength="22.3" lengthAdjust="spacingAndGlyphs" stroke-width="0.12">(ppb)</tspan></text>
<g fill="none">
<g stroke="#00ffff">
<polyline clip-path="url(#cl5)" stroke-width="1.15" stroke-linejoin="round" points="23.20,304.86 35.07,306.95 46.93,312.81 58.80,316.29 70.67,315.87 82.53,314.62 94.40,311.27 106.27,302.35 118.13,286.04 130.00,284.23 141.87,259.13 153.73,263.31 165.60,270.98 177.47,283.95 189.33,292.03 201.20,287.01 213.07,298.58 224.93,278.65 236.80,272.51 248.67,289.94 260.53,294.40 272.40,291.34 284.27,282.97 296.13,281.99 308.00,287.01"/>
<g clip-path="url(#cp5)" stroke-width="0.95"><use href="#m" x="23.20" y="304.86"/><use href="#m" x="35.07" y="306.95"/><use href="#m" x="46.93" y="312.81"/><use href="#m" x="58.80" y="316.29"/><use href="#m" x="70.67" y="315.87"/><use href="#m" x="82.53" y="314.62"/><use href="#m" x="94.40" y="311.27"/><use href="#m" x="106.27" y="302.35"/><use href="#m" x="118.13" y="286.04"/><use href="#m" x="130.00" y="284.23"/><use href="#m" x="141.87" y="259.13"/><use href="#m" x="153.73" y="263.31"/><use href="#m" x="165.60" y="270.98"/><use href="#m" x="177.47" y="283.95"/><use href="#m" x="189.33" y="292.03"/><use href="#m" x="201.20" y="287.01"/><use href="#m" x="213.07" y="298.58"/><use href="#m" x="224.93" y="278.65"/><use href="#m" x="236.80" y="272.51"/><use href="#m" x="248.67" y="289.94"/><use href="#m" x="260.53" y="294.40"/><use href="#m" x="272.40" y="291.34"/><use href="#m" x="284.27" y="282.97"/><use href="#m" x="296.13" y="281.99"/><use href="#m" x="308.00" y="287.01"/></g>
</g>
<g stroke="#00ff00">
<polyline clip-path="url(#cl5)" stroke-width="1.15" stroke-linejoin="round" points="23.20,287.15 35.07,291.06 46.93,297.05 58.80,305.56 70.67,307.93 94.40,307.93 106.27,289.94 118.13,270.28 130.00,254.53 141.87,258.29 153.73,243.93 165.60,273.07 177.47,293.43 189.33,297.19 201.20,294.96 213.07,299.00 224.93,302.63 236.80,307.09 248.67,302.63 260.53,302.07 272.40,291.34 284.27,303.05 296.13,303.46 308.00,300.95"/>
<g clip-path="url(#cp5)" stroke-width="0.95"><use href="#m" x="23.20" y="287.15"/><use href="#m" x="35.07" y="291.06"/><use href="#m" x="46.93" y="297.05"/><use href="#m" x="58.80" y="305.56"/><use href="#m" x="70.67" y="307.93"/><use href="#m" x="94.40" y="307.93"/><use href="#m" x="106.27" y="289.94"/><use href="#m" x="118.13" y="270.28"/><use href="#m" x="130.00" y="254.53"/><use href="#m" x="141.87" y="258.29"/><use href="#m" x="153.73" y="243.93"/><use href="#m" x="165.60" y="273.07"/><use href="#m" x="177.47" y="293.43"/><use href="#m" x="189.33" y="297.19"/><use href="#m" x="201.20" y="294.96"/><use href="#m" x="213.07" y="299.00"/><use href="#m" x="224.93" y="302.63"/><use href="#m" x="236.80" y="307.09"/><use href="#m" x="248.67" y="302.63"/><use href="#m" x="260.53" y="302.07"/><use href="#m" x="272.40" y="291.34"/><use href="#m" x="284.27" y="303.05"/><use href="#m" x="296.13" y="303.46"/><use href="#m" x="308.00" y="300.95"/></g>
</g>
<g stroke="#0000ff">
<polyline clip-path="url(#cl5)" stroke-width="1.15" stroke-linejoin="round" points="23.20,300.68 35.07,301.23 46.93,304.58 58.80,307.09 70.67,308.48 94.40,302.07 106.27,288.41 118.13,270.28 130.00,264.57 141.87,258.57 153.73,264.01 165.60,265.40 177.47,288.41 189.33,281.02 201.20,287.99 213.07,287.01 224.93,287.57 236.80,291.61 248.67,298.03 260.53,305.00 272.40,298.45 284.27,295.94 296.13,306.67 308.00,305.42"/>
<g clip-path="url(#cp5)" stroke-width="0.95"><use href="#m" x="23.20" y="300.68"/><use href="#m" x="35.07" y="301.23"/><use href="#m" x="46.93" y="304.58"/><use href="#m" x="58.80" y="307.09"/><use href="#m" x="70.67" y="308.48"/><use href="#m" x="94.40" y="302.07"/><use href="#m" x="106.27" y="288.41"/><use href="#m" x="118.13" y="270.28"/><use href="#m" x="130.00" y="264.57"/><use href="#m" x="141.87" y="258.57"/><use href="#m" x="153.73" y="264.01"/><use href="#m" x="165.60" y="265.40"/><use href="#m" x="177.47" y="288.41"/><use href="#m" x="189.33" y="281.02"/><use href="#m" x="201.20" y="287.99"/><use href="#m" x="213.07" y="287.01"/><use href="#m" x="224.93" y="287.57"/><use href="#m" x="236.80" y="291.61"/><use href="#m" x="248.67" y="298.03"/><use href="#m" x="260.53" y="305.00"/><use href="#m" x="272.40" y="298.45"/><use href="#m" x="284.27" y="295.94"/><use href="#m" x="296.13" y="306.67"/><use href="#m" x="308.00" y="305.42"/></g>
</g>
<g stroke="#ff0000">
<polyline clip-path="url(#cl5)" stroke-width="1.15" stroke-linejoin="round" points="23.20,305.42 35.07,306.67 46.93,308.48 58.80,309.04 70.67,305.97 82.53,307.09 94.40,307.37 106.27,308.62 118.13,307.37 130.00,307.09 141.87,307.37 153.73,309.60 165.60,308.48 177.47,310.44 189.33,308.62 201.20,294.40 213.07,299.56 224.93,301.65 236.80,305.42 248.67,308.07 260.53,310.02 272.40,307.09 284.27,308.20 296.13,307.09 308.00,309.04"/>
<g clip-path="url(#cp5)" stroke-width="0.95"><use href="#m" x="23.20" y="305.42"/><use href="#m" x="35.07" y="306.67"/><use href="#m" x="46.93" y="308.48"/><use href="#m" x="58.80" y="309.04"/><use href="#m" x="70.67" y="305.97"/><use href="#m" x="82.53" y="307.09"/><use href="#m" x="94.40" y="307.37"/><use href="#m" x="106.27" y="308.62"/><use href="#m" x="118.13" y="307.37"/><use href="#m" x="130.00" y="307.09"/><use href="#m" x="141.87" y="307.37"/><use href="#m" x="153.73" y="309.60"/><use href="#m" x="165.60" y="308.48"/><use href="#m" x="177.47" y="310.44"/><use href="#m" x="189.33" y="308.62"/><use href="#m" x="201.20" y="294.40"/><use href="#m" x="213.07" y="299.56"/><use href="#m" x="224.93" y="301.65"/><use href="#m" x="236.80" y="305.42"/><use href="#m" x="248.67" y="308.07"/><use href="#m" x="260.53" y="310.02"/><use href="#m" x="272.40" y="307.09"/><use href="#m" x="284.27" y="308.20"/><use href="#m" x="296.13" y="307.09"/><use href="#m" x="308.00" y="309.04"/></g>
</g>
</g>
</g>
<g>
<clipPath id="cp6"><rect x="348.20" y="243.15" width="284.80" height="82.90"/></clipPath>
<clipPath id="cl6"><rect x="348.20" y="243.20" width="284.80" height="82.05"/></clipPath>
<path d="M395.67 326.05V242.40M443.13 326.05V242.40M490.60 326.05V242.40M538.07 326.05V242.40M585.53 326.05V242.40M348.20 314.10H633.00M348.20 302.15H633.00M348.20 290.20H633.00M348.20 278.25H633.00M348.20 266.30H633.00M348.20 254.35H633.00" stroke="#000" stroke-width="1.15" stroke-dasharray="1.2 1.96" fill="none"/>
<path d="M371.93 326.05v-3.70M371.93 242.40v3.70M395.67 326.05v-6.00M395.67 242.40v6.00M419.40 326.05v-3.70M419.40 242.40v3.70M443.13 326.05v-6.00M443.13 242.40v6.00M466.87 326.05v-3.70M466.87 242.40v3.70M490.60 326.05v-6.00M490.60 242.40v6.00M514.33 326.05v-3.70M514.33 242.40v3.70M538.07 326.05v-6.00M538.07 242.40v6.00M561.80 326.05v-3.70M561.80 242.40v3.70M585.53 326.05v-6.00M585.53 242.40v6.00M609.27 326.05v-3.70M609.27 242.40v3.70M348.20 320.07h3.70M633.00 320.07h-3.70M348.20 314.10h6.00M633.00 314.10h-6.00M348.20 308.12h3.70M633.00 308.12h-3.70M348.20 302.15h6.00M633.00 302.15h-6.00M348.20 296.18h3.70M633.00 296.18h-3.70M348.20 290.20h6.00M633.00 290.20h-6.00M348.20 284.23h3.70M633.00 284.23h-3.70M348.20 278.25h6.00M633.00 278.25h-6.00M348.20 272.27h3.70M633.00 272.27h-3.70M348.20 266.30h6.00M633.00 266.30h-6.00M348.20 260.32h3.70M633.00 260.32h-3.70M348.20 254.35h6.00M633.00 254.35h-6.00M348.20 248.38h3.70M633.00 248.38h-3.70" stroke="#000" stroke-width="1.15" fill="none"/>
<path d="M348.20 242.40V326.05H633.00V242.40" fill="none" stroke="#000" stroke-width="1.75" stroke-linecap="square"/>
<path d="M348.20 242.50H633.00" fill="none" stroke="#000" stroke-width="1.4" stroke-linecap="square"/>
<g font-family="'Liberation Sans', sans-serif" font-weight="bold" font-size="8.3" fill="#000" stroke="#000" stroke-width="0.16">
<text x="348.20" y="337.15" text-anchor="middle">0</text>
<text x="395.67" y="337.15" text-anchor="middle">4</text>
<text x="443.13" y="337.15" text-anchor="middle">8</text>
<text x="490.60" y="337.15" text-anchor="middle">12</text>
<text x="538.07" y="337.15" text-anchor="middle">16</text>
<text x="585.53" y="337.15" text-anchor="middle">20</text>
<text x="633.00" y="337.15" text-anchor="middle">24</text>
<text x="343.30" y="328.90" text-anchor="end">0</text>
<text x="343.30" y="316.95" text-anchor="end">10</text>
<text x="343.30" y="305.00" text-anchor="end">20</text>
<text x="343.30" y="293.05" text-anchor="end">30</text>
<text x="343.30" y="281.10" text-anchor="end">40</text>
<text x="343.30" y="269.15" text-anchor="end">50</text>
<text x="343.30" y="257.20" text-anchor="end">60</text>
<text x="343.30" y="245.25" text-anchor="end">70</text>
</g>
<text y="238.60" font-family="'Liberation Serif', serif" font-weight="bold" font-size="8.6" fill="#000" stroke="#000"><tspan x="597.50" textLength="9.7" lengthAdjust="spacingAndGlyphs" stroke-width="0.22">O3</tspan> <tspan x="611.60" textLength="22.3" lengthAdjust="spacingAndGlyphs" stroke-width="0.12">(ppb)</tspan></text>
<g fill="none">
<g stroke="#00ffff">
<polyline clip-path="url(#cl6)" stroke-width="1.15" stroke-linejoin="round" points="348.20,293.43 360.07,287.57 371.93,274.43 383.80,275.38 395.67,294.02 407.53,308.60 419.40,317.69 431.27,324.02 443.13,324.02 455.00,324.02 466.87,324.02 478.73,323.06 490.60,321.15 502.47,309.08 514.33,291.99 526.20,308.48 538.07,275.98 549.93,310.04 561.80,312.67 573.67,307.05 585.53,318.04 597.40,322.70 609.27,323.06 621.13,323.42 633.00,323.66"/>
<g clip-path="url(#cp6)" stroke-width="0.95"><use href="#m" x="348.20" y="293.43"/><use href="#m" x="360.07" y="287.57"/><use href="#m" x="371.93" y="274.43"/><use href="#m" x="383.80" y="275.38"/><use href="#m" x="395.67" y="294.02"/><use href="#m" x="407.53" y="308.60"/><use href="#m" x="419.40" y="317.69"/><use href="#m" x="431.27" y="324.02"/><use href="#m" x="443.13" y="324.02"/><use href="#m" x="455.00" y="324.02"/><use href="#m" x="466.87" y="324.02"/><use href="#m" x="478.73" y="323.06"/><use href="#m" x="490.60" y="321.15"/><use href="#m" x="502.47" y="309.08"/><use href="#m" x="514.33" y="291.99"/><use href="#m" x="526.20" y="308.48"/><use href="#m" x="538.07" y="275.98"/><use href="#m" x="549.93" y="310.04"/><use href="#m" x="561.80" y="312.67"/><use href="#m" x="573.67" y="307.05"/><use href="#m" x="585.53" y="318.04"/><use href="#m" x="597.40" y="322.70"/><use href="#m" x="609.27" y="323.06"/><use href="#m" x="621.13" y="323.42"/><use href="#m" x="633.00" y="323.66"/></g>
</g>
<g stroke="#00ff00">
<polyline clip-path="url(#cl6)" stroke-width="1.15" stroke-linejoin="round" points="348.20,324.02 360.07,323.42 371.93,321.03 383.80,318.28 395.67,310.99 407.53,314.10 419.40,313.02 431.27,323.42 443.13,323.42 455.00,323.42 466.87,323.42 478.73,322.70 490.60,314.46 502.47,298.56 514.33,287.57 526.20,302.63 538.07,292.59 549.93,284.58 561.80,280.64 573.67,295.58 585.53,297.97 597.40,291.99 609.27,276.58 621.13,285.06 633.00,291.39"/>
<g clip-path="url(#cp6)" stroke-width="0.95"><use href="#m" x="348.20" y="324.02"/><use href="#m" x="360.07" y="323.42"/><use href="#m" x="371.93" y="321.03"/><use href="#m" x="383.80" y="318.28"/><use href="#m" x="395.67" y="310.99"/><use href="#m" x="407.53" y="314.10"/><use href="#m" x="419.40" y="313.02"/><use href="#m" x="431.27" y="323.42"/><use href="#m" x="443.13" y="323.42"/><use href="#m" x="455.00" y="323.42"/><use href="#m" x="466.87" y="323.42"/><use href="#m" x="478.73" y="322.70"/><use href="#m" x="490.60" y="314.46"/><use href="#m" x="502.47" y="298.56"/><use href="#m" x="514.33" y="287.57"/><use href="#m" x="526.20" y="302.63"/><use href="#m" x="538.07" y="292.59"/><use href="#m" x="549.93" y="284.58"/><use href="#m" x="561.80" y="280.64"/><use href="#m" x="573.67" y="295.58"/><use href="#m" x="585.53" y="297.97"/><use href="#m" x="597.40" y="291.99"/><use href="#m" x="609.27" y="276.58"/><use href="#m" x="621.13" y="285.06"/><use href="#m" x="633.00" y="291.39"/></g>
</g>
<g stroke="#0000ff">
<polyline clip-path="url(#cl6)" stroke-width="1.15" stroke-linejoin="round" points="348.20,291.39 360.07,312.67 371.93,309.44 383.80,302.39 395.67,297.01 407.53,303.46 419.40,309.44 431.27,323.06 443.13,323.06 455.00,323.06 466.87,322.70 478.73,321.03 490.60,315.30 502.47,302.03 514.33,310.04 526.20,302.63 538.07,302.39 549.93,296.65 561.80,291.04 573.67,294.98 585.53,278.61 597.40,306.45 609.27,308.01 621.13,291.04 633.00,283.03"/>
<g clip-path="url(#cp6)" stroke-width="0.95"><use href="#m" x="348.20" y="291.39"/><use href="#m" x="360.07" y="312.67"/><use href="#m" x="371.93" y="309.44"/><use href="#m" x="383.80" y="302.39"/><use href="#m" x="395.67" y="297.01"/><use href="#m" x="407.53" y="303.46"/><use href="#m" x="419.40" y="309.44"/><use href="#m" x="431.27" y="323.06"/><use href="#m" x="443.13" y="323.06"/><use href="#m" x="455.00" y="323.06"/><use href="#m" x="466.87" y="322.70"/><use href="#m" x="478.73" y="321.03"/><use href="#m" x="490.60" y="315.30"/><use href="#m" x="502.47" y="302.03"/><use href="#m" x="514.33" y="310.04"/><use href="#m" x="526.20" y="302.63"/><use href="#m" x="538.07" y="302.39"/><use href="#m" x="549.93" y="296.65"/><use href="#m" x="561.80" y="291.04"/><use href="#m" x="573.67" y="294.98"/><use href="#m" x="585.53" y="278.61"/><use href="#m" x="597.40" y="306.45"/><use href="#m" x="609.27" y="308.01"/><use href="#m" x="621.13" y="291.04"/><use href="#m" x="633.00" y="283.03"/></g>
</g>
<g stroke="#ff0000">
<polyline clip-path="url(#cl6)" stroke-width="1.15" stroke-linejoin="round" points="348.20,283.03 360.07,278.61 371.93,261.64 383.80,254.95 395.67,249.33 407.53,252.56 419.40,258.65 431.27,261.40 443.13,275.02 455.00,278.97 466.87,281.95 478.73,284.58 490.60,284.58 502.47,273.47 514.33,276.58 526.20,293.07 538.07,291.99 549.93,296.65 561.80,271.08 573.67,281.00 585.53,270.36 597.40,280.64 609.27,285.06 621.13,289.00 633.00,275.38"/>
<g clip-path="url(#cp6)" stroke-width="0.95"><use href="#m" x="348.20" y="283.03"/><use href="#m" x="360.07" y="278.61"/><use href="#m" x="371.93" y="261.64"/><use href="#m" x="383.80" y="254.95"/><use href="#m" x="395.67" y="249.33"/><use href="#m" x="407.53" y="252.56"/><use href="#m" x="419.40" y="258.65"/><use href="#m" x="431.27" y="261.40"/><use href="#m" x="443.13" y="275.02"/><use href="#m" x="455.00" y="278.97"/><use href="#m" x="466.87" y="281.95"/><use href="#m" x="478.73" y="284.58"/><use href="#m" x="490.60" y="284.58"/><use href="#m" x="502.47" y="273.47"/><use href="#m" x="514.33" y="276.58"/><use href="#m" x="526.20" y="293.07"/><use href="#m" x="538.07" y="291.99"/><use href="#m" x="549.93" y="296.65"/><use href="#m" x="561.80" y="271.08"/><use href="#m" x="573.67" y="281.00"/><use href="#m" x="585.53" y="270.36"/><use href="#m" x="597.40" y="280.64"/><use href="#m" x="609.27" y="285.06"/><use href="#m" x="621.13" y="289.00"/><use href="#m" x="633.00" y="275.38"/></g>
</g>
</g>
</g>
<g>
<clipPath id="cp7"><rect x="673.20" y="243.15" width="284.80" height="82.90"/></clipPath>
<clipPath id="cl7"><rect x="673.20" y="243.20" width="284.80" height="82.05"/></clipPath>
<path d="M720.67 326.05V242.40M768.13 326.05V242.40M815.60 326.05V242.40M863.07 326.05V242.40M910.53 326.05V242.40M673.20 309.32H958.00M673.20 292.59H958.00M673.20 275.86H958.00M673.20 259.13H958.00" stroke="#000" stroke-width="1.15" stroke-dasharray="1.2 1.96" fill="none"/>
<path d="M696.93 326.05v-3.70M696.93 242.40v3.70M720.67 326.05v-6.00M720.67 242.40v6.00M744.40 326.05v-3.70M744.40 242.40v3.70M768.13 326.05v-6.00M768.13 242.40v6.00M791.87 326.05v-3.70M791.87 242.40v3.70M815.60 326.05v-6.00M815.60 242.40v6.00M839.33 326.05v-3.70M839.33 242.40v3.70M863.07 326.05v-6.00M863.07 242.40v6.00M886.80 326.05v-3.70M886.80 242.40v3.70M910.53 326.05v-6.00M910.53 242.40v6.00M934.27 326.05v-3.70M934.27 242.40v3.70M673.20 317.69h3.70M958.00 317.69h-3.70M673.20 309.32h6.00M958.00 309.32h-6.00M673.20 300.95h3.70M958.00 300.95h-3.70M673.20 292.59h6.00M958.00 292.59h-6.00M673.20 284.23h3.70M958.00 284.23h-3.70M673.20 275.86h6.00M958.00 275.86h-6.00M673.20 267.50h3.70M958.00 267.50h-3.70M673.20 259.13h6.00M958.00 259.13h-6.00M673.20 250.76h3.70M958.00 250.76h-3.70" stroke="#000" stroke-width="1.15" fill="none"/>
<path d="M673.20 242.40V326.05H958.00V242.40" fill="none" stroke="#000" stroke-width="1.75" stroke-linecap="square"/>
<path d="M673.20 242.50H958.00" fill="none" stroke="#000" stroke-width="1.4" stroke-linecap="square"/>
<g font-family="'Liberation Sans', sans-serif" font-weight="bold" font-size="8.3" fill="#000" stroke="#000" stroke-width="0.16">
<text x="673.20" y="337.15" text-anchor="middle">0</text>
<text x="720.67" y="337.15" text-anchor="middle">4</text>
<text x="768.13" y="337.15" text-anchor="middle">8</text>
<text x="815.60" y="337.15" text-anchor="middle">12</text>
<text x="863.07" y="337.15" text-anchor="middle">16</text>
<text x="910.53" y="337.15" text-anchor="middle">20</text>
<text x="958.00" y="337.15" text-anchor="middle">24</text>
<text x="667.90" y="328.90" text-anchor="end" letter-spacing="-0.25">0.4</text>
<text x="667.90" y="312.17" text-anchor="end" letter-spacing="-0.25">0.6</text>
<text x="667.90" y="295.44" text-anchor="end" letter-spacing="-0.25">0.8</text>
<text x="667.90" y="278.71" text-anchor="end" letter-spacing="-0.25">1.0</text>
<text x="667.90" y="261.98" text-anchor="end" letter-spacing="-0.25">1.2</text>
<text x="667.90" y="245.25" text-anchor="end" letter-spacing="-0.25">1.4</text>
</g>
<text y="238.60" font-family="'Liberation Serif', serif" font-weight="bold" font-size="8.6" fill="#000" stroke="#000"><tspan x="918.90" textLength="9.9" lengthAdjust="spacingAndGlyphs" stroke-width="0.22">CO</tspan> <tspan x="933.50" textLength="25.4" lengthAdjust="spacingAndGlyphs" stroke-width="0.12">(ppm)</tspan></text>
<g fill="none">
<g stroke="#00ffff">
<polyline clip-path="url(#cl7)" stroke-width="1.15" stroke-linejoin="round" points="673.20,307.06 685.07,317.69 696.93,321.45 708.80,323.54 720.67,320.45 732.53,318.52 744.40,313.50 756.27,304.05 768.13,282.05 780.00,281.46 791.87,280.63 803.73,272.10 815.60,273.35 827.47,287.99 839.33,297.44 851.20,294.60 863.07,303.05 874.93,287.99 886.80,283.05 898.67,292.00 910.53,265.99 922.40,259.63 934.27,261.64 946.13,272.01 958.00,273.35"/>
<g clip-path="url(#cp7)" stroke-width="0.95"><use href="#m" x="673.20" y="307.06"/><use href="#m" x="685.07" y="317.69"/><use href="#m" x="696.93" y="321.45"/><use href="#m" x="708.80" y="323.54"/><use href="#m" x="720.67" y="320.45"/><use href="#m" x="732.53" y="318.52"/><use href="#m" x="744.40" y="313.50"/><use href="#m" x="756.27" y="304.05"/><use href="#m" x="768.13" y="282.05"/><use href="#m" x="780.00" y="281.46"/><use href="#m" x="791.87" y="280.63"/><use href="#m" x="803.73" y="272.10"/><use href="#m" x="815.60" y="273.35"/><use href="#m" x="827.47" y="287.99"/><use href="#m" x="839.33" y="297.44"/><use href="#m" x="851.20" y="294.60"/><use href="#m" x="863.07" y="303.05"/><use href="#m" x="874.93" y="287.99"/><use href="#m" x="886.80" y="283.05"/><use href="#m" x="898.67" y="292.00"/><use href="#m" x="910.53" y="265.99"/><use href="#m" x="922.40" y="259.63"/><use href="#m" x="934.27" y="261.64"/><use href="#m" x="946.13" y="272.01"/><use href="#m" x="958.00" y="273.35"/></g>
</g>
<g stroke="#00ff00">
<polyline clip-path="url(#cl7)" stroke-width="1.15" stroke-linejoin="round" points="673.20,273.35 685.07,276.70 696.93,290.92 708.80,296.44 720.67,302.04 744.40,302.21 756.27,292.59 768.13,269.17 780.00,254.61 791.87,243.57 803.73,251.60 815.60,292.00 827.47,310.99 839.33,314.67 851.20,309.07 863.07,314.42 874.93,312.67 886.80,314.00 898.67,308.65 910.53,297.02 922.40,290.67 934.27,309.07 946.13,311.41 958.00,306.06"/>
<g clip-path="url(#cp7)" stroke-width="0.95"><use href="#m" x="673.20" y="273.35"/><use href="#m" x="685.07" y="276.70"/><use href="#m" x="696.93" y="290.92"/><use href="#m" x="708.80" y="296.44"/><use href="#m" x="720.67" y="302.04"/><use href="#m" x="744.40" y="302.21"/><use href="#m" x="756.27" y="292.59"/><use href="#m" x="768.13" y="269.17"/><use href="#m" x="780.00" y="254.61"/><use href="#m" x="791.87" y="243.57"/><use href="#m" x="803.73" y="251.60"/><use href="#m" x="815.60" y="292.00"/><use href="#m" x="827.47" y="310.99"/><use href="#m" x="839.33" y="314.67"/><use href="#m" x="851.20" y="309.07"/><use href="#m" x="863.07" y="314.42"/><use href="#m" x="874.93" y="312.67"/><use href="#m" x="886.80" y="314.00"/><use href="#m" x="898.67" y="308.65"/><use href="#m" x="910.53" y="297.02"/><use href="#m" x="922.40" y="290.67"/><use href="#m" x="934.27" y="309.07"/><use href="#m" x="946.13" y="311.41"/><use href="#m" x="958.00" y="306.06"/></g>
</g>
<g stroke="#0000ff">
<polyline clip-path="url(#cl7)" stroke-width="1.15" stroke-linejoin="round" points="673.20,305.47 685.07,291.75 696.93,300.12 708.80,309.32 720.67,312.08 744.40,308.07 756.27,292.59 768.13,274.19 780.00,256.03 791.87,253.44 803.73,270.59 815.60,283.81 827.47,299.45 839.33,299.03 851.20,305.47 863.07,301.46 874.93,300.45 886.80,305.47 898.67,301.46 910.53,304.64 922.40,292.00 934.27,297.44 946.13,310.66 958.00,314.00"/>
<g clip-path="url(#cp7)" stroke-width="0.95"><use href="#m" x="673.20" y="305.47"/><use href="#m" x="685.07" y="291.75"/><use href="#m" x="696.93" y="300.12"/><use href="#m" x="708.80" y="309.32"/><use href="#m" x="720.67" y="312.08"/><use href="#m" x="744.40" y="308.07"/><use href="#m" x="756.27" y="292.59"/><use href="#m" x="768.13" y="274.19"/><use href="#m" x="780.00" y="256.03"/><use href="#m" x="791.87" y="253.44"/><use href="#m" x="803.73" y="270.59"/><use href="#m" x="815.60" y="283.81"/><use href="#m" x="827.47" y="299.45"/><use href="#m" x="839.33" y="299.03"/><use href="#m" x="851.20" y="305.47"/><use href="#m" x="863.07" y="301.46"/><use href="#m" x="874.93" y="300.45"/><use href="#m" x="886.80" y="305.47"/><use href="#m" x="898.67" y="301.46"/><use href="#m" x="910.53" y="304.64"/><use href="#m" x="922.40" y="292.00"/><use href="#m" x="934.27" y="297.44"/><use href="#m" x="946.13" y="310.66"/><use href="#m" x="958.00" y="314.00"/></g>
</g>
<g stroke="#ff0000">
<polyline clip-path="url(#cl7)" stroke-width="1.15" stroke-linejoin="round" points="673.20,313.08 685.07,313.08 696.93,316.68 708.80,317.43 720.67,317.02 732.53,318.52 744.40,319.44 756.27,318.02 768.13,319.61 780.00,320.61 791.87,313.50 803.73,315.18 815.60,314.42 827.47,313.50 839.33,314.67 851.20,305.14 863.07,308.07 874.93,303.05 886.80,314.00 898.67,312.67 910.53,313.08 922.40,308.48 934.27,308.48 946.13,309.07 958.00,314.00"/>
<g clip-path="url(#cp7)" stroke-width="0.95"><use href="#m" x="673.20" y="313.08"/><use href="#m" x="685.07" y="313.08"/><use href="#m" x="696.93" y="316.68"/><use href="#m" x="708.80" y="317.43"/><use href="#m" x="720.67" y="317.02"/><use href="#m" x="732.53" y="318.52"/><use href="#m" x="744.40" y="319.44"/><use href="#m" x="756.27" y="318.02"/><use href="#m" x="768.13" y="319.61"/><use href="#m" x="780.00" y="320.61"/><use href="#m" x="791.87" y="313.50"/><use href="#m" x="803.73" y="315.18"/><use href="#m" x="815.60" y="314.42"/><use href="#m" x="827.47" y="313.50"/><use href="#m" x="839.33" y="314.67"/><use href="#m" x="851.20" y="305.14"/><use href="#m" x="863.07" y="308.07"/><use href="#m" x="874.93" y="303.05"/><use href="#m" x="886.80" y="314.00"/><use href="#m" x="898.67" y="312.67"/><use href="#m" x="910.53" y="313.08"/><use href="#m" x="922.40" y="308.48"/><use href="#m" x="934.27" y="308.48"/><use href="#m" x="946.13" y="309.07"/><use href="#m" x="958.00" y="314.00"/></g>
</g>
</g>
</g>
</g>
</svg>
</body></html>
